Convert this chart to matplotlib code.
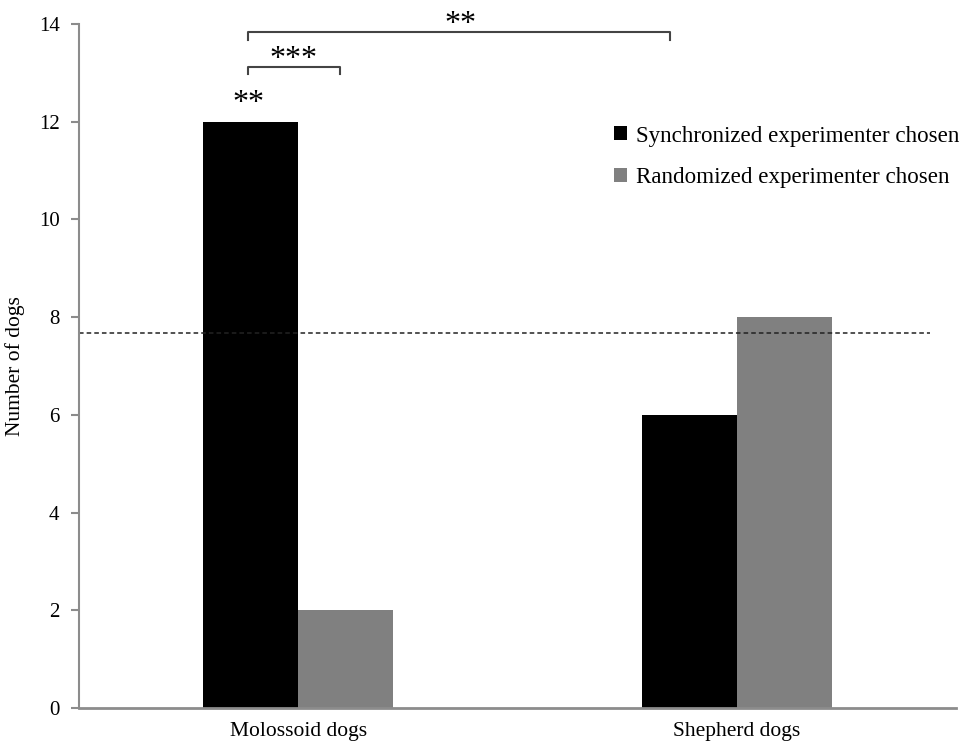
import matplotlib.pyplot as plt
import numpy as np
from matplotlib.patches import Patch

plt.rcParams['font.family'] = ['Liberation Serif', 'DejaVu Serif']

# data
categories = ['Molossoid dogs', 'Shepherd dogs']
synchronized = [12, 6]
randomized = [2, 8]
series_labels = ['Synchronized experimenter chosen', 'Randomized experimenter chosen']
chance_level = 7.67
yticks = [0, 2, 4, 6, 8, 10, 12, 14]

fig = plt.figure(figsize=[9.79, 7.44], dpi=100)
ax = fig.add_axes([79/979, 1 - 708/744, (956 - 79)/979, (708 - 24)/744])

x = np.arange(len(categories))
w = 0.217
ax.bar(x - w/2, synchronized, width=w, color='black', edgecolor='none')
ax.bar(x + w/2, randomized, width=w, color='#808080', edgecolor='none')

ax.set_xlim(-0.5, 1.5)
ax.set_ylim(0, 14)

# chance level
ax.plot([-0.5, 1.44], [chance_level, chance_level], color='#222222',
        linestyle=(0, (3, 2)), linewidth=1.1)

# axes styling
for s in ['top', 'right']:
    ax.spines[s].set_visible(False)
ax.spines['left'].set_color('#8c8c8c')
ax.spines['left'].set_linewidth(1.5)
ax.spines['bottom'].set_color('#8c8c8c')
ax.spines['bottom'].set_linewidth(2)
ax.set_yticks(yticks)
ax.tick_params(axis='y', direction='out', length=6, width=1.5, color='#8c8c8c',
               labelsize=15, pad=8)
ax.set_xticks(x)
ax.set_xticklabels(categories, fontsize=15.5)
ax.tick_params(axis='x', length=0, pad=10)
ax.set_ylabel('Number of dogs', fontsize=15.5, labelpad=10)

# significance brackets
br_col = '#444444'
ax.plot([-0.115, -0.115, 0.848, 0.848], [13.68, 13.83, 13.83, 13.68],
        color=br_col, linewidth=1.5, clip_on=False)
ax.plot([-0.115, -0.115, 0.095, 0.095], [12.98, 13.12, 13.12, 12.98],
        color=br_col, linewidth=1.5, clip_on=False)
ax.text(0.37, 13.98, '**', ha='center', va='center', fontsize=23, clip_on=False)
ax.text(-0.012, 13.28, '***', ha='center', va='center', fontsize=23)
ax.text(-0.113, 12.38, '**', ha='center', va='center', fontsize=23)

handles = [Patch(facecolor='black'), Patch(facecolor='#808080')]
ax.legend(handles, series_labels, loc='upper left', bbox_to_anchor=(0.6, 0.865),
          frameon=False, fontsize=16.6, handlelength=0.55, handleheight=0.55,
          handletextpad=0.4, labelspacing=0.9, borderaxespad=0)

plt.savefig('out.png', dpi=100, facecolor='white')
